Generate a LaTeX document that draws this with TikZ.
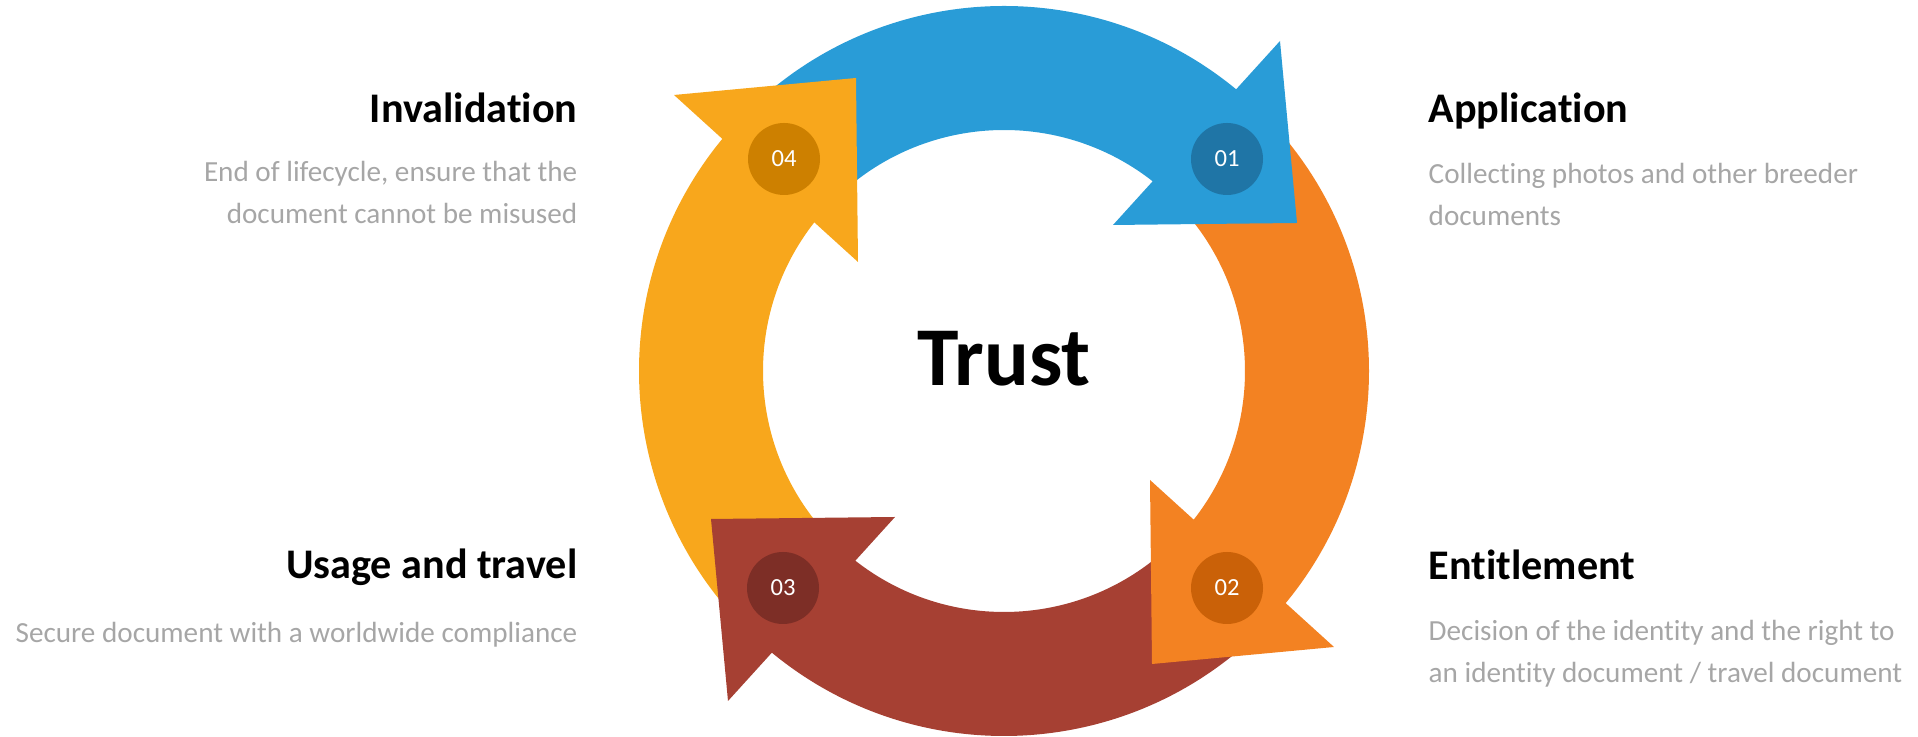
\documentclass[tikz,border=0pt]{standalone}
\usepackage{fontspec}
\setmainfont{Carlito}[Ligatures=NoCommon]
\usepackage{tikz}
\definecolor{cycblue}{RGB}{41,156,215}
\definecolor{cycorange}{RGB}{243,130,34}
\definecolor{cycbrown}{RGB}{166,64,51}
\definecolor{cycyellow}{RGB}{248,167,28}
\definecolor{badgeblue}{RGB}{31,117,166}
\definecolor{badgeorange}{RGB}{202,97,8}
\definecolor{badgebrown}{RGB}{125,46,38}
\definecolor{badgeyellow}{RGB}{205,128,0}
\definecolor{descgray}{RGB}{166,166,166}

\begin{document}
\begin{tikzpicture}[
    title/.style={inner sep=0pt, font=\fontsize{12}{14}\selectfont\bfseries},
    desc/.style={inner sep=0pt, text=descgray, font=\fontsize{8.3}{12.2}\selectfont},
    badge/.style={circle, inner sep=0pt, minimum size=0.72cm, text=white, font=\fontsize{7}{8}\selectfont}
]
\useasboundingbox (-10.04,-3.66) rectangle (9.14,3.71);

% Ring bands first, so every head lies over the next tail
\fill[cycblue] (49:3.65) arc[start angle=49, end angle=135, radius=3.65] -- (135:2.41) arc[start angle=135, end angle=49, radius=2.41] -- cycle;
\fill[cycorange] (-41:3.65) arc[start angle=-41, end angle=45, radius=3.65] -- (45:2.41) arc[start angle=45, end angle=-41, radius=2.41] -- cycle;
\fill[cycbrown] (-131:3.65) arc[start angle=-131, end angle=-45, radius=3.65] -- (-45:2.41) arc[start angle=-45, end angle=-131, radius=2.41] -- cycle;
\fill[cycyellow] (139:3.65) arc[start angle=139, end angle=225, radius=3.65] -- (225:2.41) arc[start angle=225, end angle=139, radius=2.41] -- cycle;

% Arrow heads
\fill[cycblue] (2.76,3.30) -- (2.93,1.48) -- (1.09,1.46) -- cycle;
\fill[cycorange] (3.30,-2.76) -- (1.48,-2.93) -- (1.46,-1.09) -- cycle;
\fill[cycbrown] (-2.76,-3.30) -- (-2.93,-1.48) -- (-1.09,-1.46) -- cycle;
\fill[cycyellow] (-3.30,2.76) -- (-1.48,2.93) -- (-1.46,1.09) -- cycle;

% Step numbers
\node[badge, fill=badgeblue] (b01) at (2.23,2.12) {01};
\node[badge, fill=badgeorange] (b02) at (2.23,-2.17) {02};
\node[badge, fill=badgebrown] (b03) at (-2.21,-2.17) {03};
\node[badge, fill=badgeyellow] (b04) at (-2.20,2.12) {04};

\node[inner sep=0pt, font=\fontsize{23.8}{28}\selectfont\bfseries] (trust) at (0,0.12) {Trust};

% Right side
\node[title, anchor=base west] (application) at (4.24,2.485) {Application};
\node[desc, anchor=base west, align=left] (applicationtext) at ([yshift=-1.035cm]application.base west) {Collecting photos and other breeder\\documents};
\node[title, anchor=base west] (entitlement) at (4.24,-2.085) {Entitlement};
\node[desc, anchor=base west, align=left] (entitlementtext) at ([yshift=-1.035cm]entitlement.base west) {Decision of the identity and the right to\\an identity document / travel document};

% Left side
\node[title, anchor=base east] (invalidation) at (-4.26,2.48) {Invalidation};
\node[desc, anchor=base east, align=right] (invalidationtext) at ([yshift=-1.01cm]invalidation.base east) {End of lifecycle, ensure that the\\document cannot be misused};
\node[title, anchor=base east] (usage) at (-4.26,-2.075) {Usage and travel};
\node[desc, anchor=base east] (usagetext) at ([yshift=-0.645cm]usage.base east) {Secure document with a worldwide compliance};

\end{tikzpicture}
\end{document}
